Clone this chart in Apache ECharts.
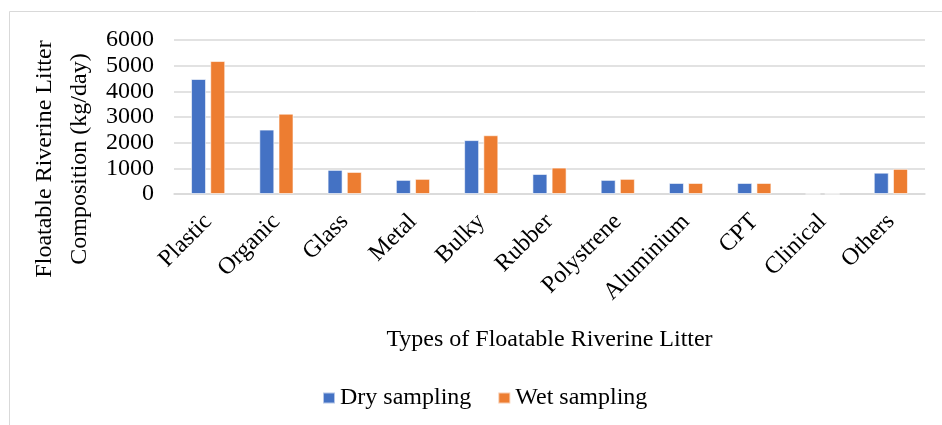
<!DOCTYPE html>
<html>
<head>
<meta charset="utf-8">
<script src="https://cdn.jsdelivr.net/npm/echarts@6/dist/echarts.min.js"></script>
<style>
  html, body { margin: 0; padding: 0; background: #fff; }
  #chart { width: 942px; height: 425px; }
</style>
</head>
<body>
<div id="chart"></div>
<script>
// Litter types and daily composition (kg/day) for the two sampling campaigns
const categories = ['Plastic', 'Organic', 'Glass', 'Metal', 'Bulky', 'Rubber', 'Polystrene', 'Aluminium', 'CPT', 'Clinical', 'Others'];
const drySampling = [4480, 2510, 940, 550, 2100, 780, 550, 430, 430, 5, 830];
const wetSampling = [5180, 3130, 860, 590, 2290, 1030, 590, 430, 430, 5, 980];
const yTicks = [0, 1000, 2000, 3000, 4000, 5000, 6000];

const font = '"Liberation Serif", "Times New Roman", serif';
const chart = echarts.init(document.getElementById('chart'));

chart.setOption({
  animation: false,
  textStyle: { fontFamily: font, color: '#000' },
  grid: { left: 174, right: 17, top: 40, bottom: 231 },
  legend: {
    left: 317,
    top: 381,
    itemWidth: 12,
    itemHeight: 11,
    itemGap: 26,
    icon: 'rect',
    textStyle: { fontFamily: font, fontSize: 24, color: '#000' },
    data: ['Dry sampling', 'Wet sampling']
  },
  xAxis: {
    type: 'category',
    data: categories,
    name: 'Types of Floatable Riverine Litter',
    nameLocation: 'middle',
    nameGap: 134,
    nameTextStyle: { fontFamily: font, fontSize: 24, color: '#000' },
    axisLine: { lineStyle: { color: '#d9d9d9', width: 1.5 } },
    axisTick: { show: false },
    axisLabel: {
      interval: 0,
      rotate: 45,
      margin: 24,
      fontFamily: font,
      fontSize: 24,
      color: '#000'
    }
  },
  yAxis: {
    type: 'value',
    min: yTicks[0],
    max: yTicks[yTicks.length - 1],
    interval: 1000,
    axisLine: { show: false },
    axisTick: { show: false },
    axisLabel: {
      margin: 20,
      fontFamily: font,
      fontSize: 24,
      color: '#000',
      formatter: (v) => String(v)
    },
    splitLine: { lineStyle: { color: '#d9d9d9', width: 1.5 } }
  },
  graphic: [
    {
      type: 'rect',
      silent: true,
      shape: { x: 9.5, y: 11.5, width: 960, height: 440 },
      style: { fill: 'none', stroke: '#d9d9d9', lineWidth: 1 }
    },
    {
      type: 'text',
      silent: true,
      x: 62,
      y: 159,
      rotation: Math.PI / 2,
      style: {
        text: 'Floatable Riverine Litter\nComposition (kg/day)',
        font: '24px "Liberation Serif", "Times New Roman", serif',
        fill: '#000',
        align: 'center',
        verticalAlign: 'middle',
        lineHeight: 35
      }
    }
  ],
  series: [
    {
      name: 'Dry sampling',
      type: 'bar',
      data: drySampling,
      barWidth: 15,
      barGap: '28%',
      itemStyle: { color: '#4472C4', borderColor: 'rgba(255,255,255,0.6)', borderWidth: 1 }
    },
    {
      name: 'Wet sampling',
      type: 'bar',
      data: wetSampling,
      barWidth: 15,
      itemStyle: { color: '#ED7D31', borderColor: 'rgba(255,255,255,0.6)', borderWidth: 1 }
    }
  ]
});
</script>
</body>
</html>
